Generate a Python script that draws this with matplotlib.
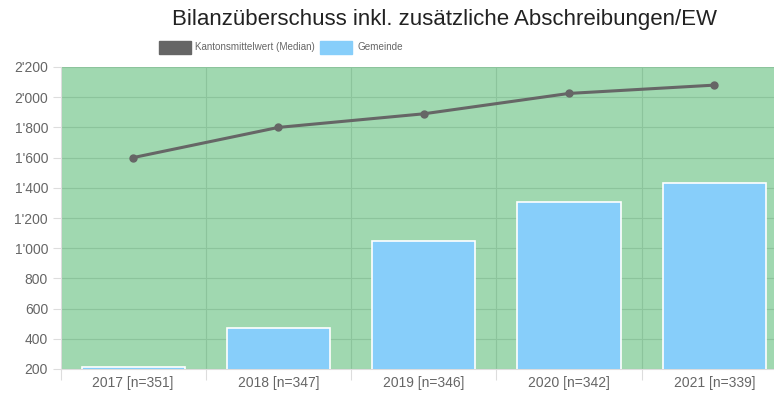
import matplotlib.pyplot as plt
from matplotlib.ticker import FuncFormatter

plt.rcParams['font.family'] = ['Liberation Sans', 'DejaVu Sans']

# data
years = ["2017 [n=351]", "2018 [n=347]", "2019 [n=346]", "2020 [n=342]", "2021 [n=339]"]
median_kanton = [1600, 1800, 1890, 2025, 2080]
gemeinde = [215, 470, 1048, 1306, 1430]

title = "Bilanzüberschuss inkl. zusätzliche Abschreibungen/EW"
bg_green = "#a0d8b0"
grid_green = "#8cc49c"
bar_blue = "#87cefa"
line_grey = "#666666"
text_grey = "#666666"

fig = plt.figure(figsize=(7.74, 4.01), dpi=100)
# axes runs past the right border, as in the (cropped) reference
ax = fig.add_axes([60.5 / 774, 32 / 401, (787 - 60.5) / 774, 302 / 401])
ax.set_facecolor(bg_green)

x = list(range(len(years)))
ax.bar(x, gemeinde, width=0.71, color=bar_blue, edgecolor="white", linewidth=1.2, zorder=3)
ax.plot(x, median_kanton, color=line_grey, linewidth=2.2, marker="o", markersize=5, zorder=4)

ax.set_xlim(-0.5, len(years) - 0.5)
ax.set_ylim(200, 2200)
ax.set_yticks(range(200, 2201, 200))
ax.yaxis.set_major_formatter(FuncFormatter(lambda v, p: f"{int(v):,}".replace(",", "'")))
ax.set_xticks(x)
ax.set_xticklabels(years)
ax.set_xticks([i - 0.5 for i in range(len(years) + 1)], minor=True)

ax.grid(axis="y", which="major", color=grid_green, linewidth=0.8, zorder=1)
ax.grid(axis="x", which="minor", color=grid_green, linewidth=0.8, zorder=1)
ax.tick_params(axis="x", which="major", length=0, pad=5, labelsize=10, labelcolor=text_grey)
ax.tick_params(axis="x", which="minor", length=8, color="#dddddd", width=0.8)
ax.tick_params(axis="y", length=6, color="#dddddd", width=0.8, labelsize=10, labelcolor=text_grey, pad=3)

for side in ["top", "right"]:
    ax.spines[side].set_visible(False)
ax.spines["left"].set_color("#dddddd")
ax.spines["bottom"].set_color("#dddddd")

fig.text(445 / 774, 1 - 19 / 401, title, ha="center", va="center", fontsize=16, color="#222222")

# legend drawn by hand to match its position
ly = 1 - 47 / 401
fig.patches.append(plt.Rectangle((159 / 774, ly - 6.5 / 401), 32 / 774, 13 / 401,
                                 transform=fig.transFigure, color=line_grey))
fig.text(195 / 774, ly, "Kantonsmittelwert (Median)", ha="left", va="center", fontsize=7.1,
         color=text_grey)
fig.patches.append(plt.Rectangle((320 / 774, ly - 6.5 / 401), 32 / 774, 13 / 401,
                                 transform=fig.transFigure, color=bar_blue))
fig.text(357 / 774, ly, "Gemeinde", ha="left", va="center", fontsize=7.1, color=text_grey)

fig.savefig("out.png", dpi=100)
